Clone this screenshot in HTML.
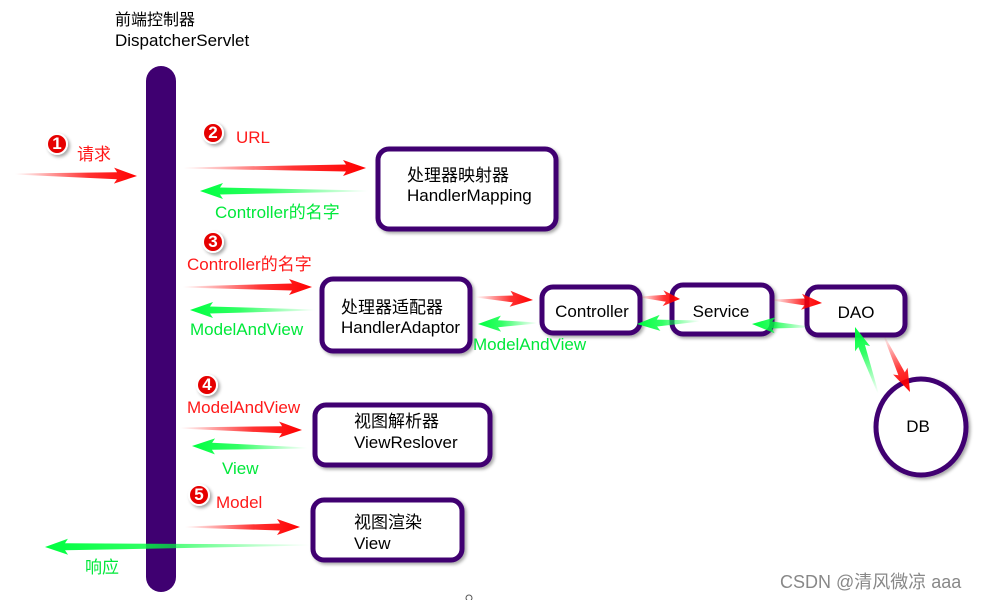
<!DOCTYPE html>
<html><head><meta charset="utf-8"><style>
html,body{margin:0;padding:0;background:#fff;width:986px;height:600px;overflow:hidden}
svg{display:block}
text{font-family:"Liberation Sans","Noto Sans CJK SC",sans-serif;font-size:17px}
.k{fill:#000}.r{fill:#ff1a1a}.g{fill:#00e83a}
</style></head><body>
<svg id="s" width="986" height="600" xmlns="http://www.w3.org/2000/svg">
<defs>
<filter id="sh" x="-20%" y="-20%" width="150%" height="150%"><feDropShadow dx="2" dy="2" stdDeviation="1.5" flood-color="#000" flood-opacity="0.35"/></filter>
</defs>
<rect x="146" y="66" width="30" height="526" rx="15" fill="#3f0071"/>
<text x="115" y="25" class="k" style="font-size:16px">前端控制器</text>
<text x="115" y="46" class="k">DispatcherServlet</text>
<g fill="#fff" stroke="#3f0071" stroke-width="5" filter="url(#sh)">
<rect x="378" y="149" width="178" height="80" rx="11"/>
<rect x="322" y="279" width="148" height="72" rx="11"/>
<rect x="542" y="287" width="98" height="46" rx="11"/>
<rect x="672" y="285" width="100" height="49" rx="11"/>
<rect x="807" y="287" width="98" height="48" rx="11"/>
<rect x="315" y="405" width="175" height="60" rx="11"/>
<rect x="313" y="500" width="149" height="60" rx="11"/>
<ellipse cx="921" cy="427" rx="45" ry="48"/>
</g>
<g id="arrows"></g>
<text x="407" y="181" class="k">处理器映射器</text>
<text x="407" y="201" class="k">HandlerMapping</text>
<text x="341" y="313" class="k">处理器适配器</text>
<text x="341" y="333" class="k">HandlerAdaptor</text>
<text x="592" y="317" class="k" text-anchor="middle">Controller</text>
<text x="721" y="317" class="k" text-anchor="middle">Service</text>
<text x="856" y="318" class="k" text-anchor="middle">DAO</text>
<text x="918" y="432" class="k" text-anchor="middle">DB</text>
<text x="354" y="427" class="k">视图解析器</text>
<text x="354" y="448" class="k">ViewReslover</text>
<text x="354" y="528" class="k">视图渲染</text>
<text x="354" y="549" class="k">View</text>
<text x="77" y="160" class="r">请求</text>
<text x="236" y="143" class="r">URL</text>
<text x="215" y="218" class="g">Controller的名字</text>
<text x="187" y="270" class="r">Controller的名字</text>
<text x="190" y="335" class="g">ModelAndView</text>
<text x="473" y="350" class="g">ModelAndView</text>
<text x="187" y="413" class="r">ModelAndView</text>
<text x="222" y="474" class="g">View</text>
<text x="216" y="508" class="r">Model</text>
<text x="85" y="573" class="g">响应</text>
<text x="780" y="588" style="fill:#888;font-size:18px">CSDN @清风微凉 aaa</text>
<g font-weight="bold">
<g filter="url(#sh)" fill="#e60000" stroke="#fff" stroke-width="2">
<circle cx="57" cy="144" r="10"/><circle cx="213" cy="133" r="10"/><circle cx="213" cy="242" r="10"/><circle cx="207" cy="385" r="10"/><circle cx="199" cy="495" r="10"/>
</g>
<text x="57" y="149" fill="#fff" font-size="13" text-anchor="middle">1</text>
<text x="213" y="138" fill="#fff" font-size="13" text-anchor="middle">2</text>
<text x="213" y="247" fill="#fff" font-size="13" text-anchor="middle">3</text>
<text x="207" y="390" fill="#fff" font-size="13" text-anchor="middle">4</text>
<text x="199" y="500" fill="#fff" font-size="13" text-anchor="middle">5</text>
</g>
<circle cx="469" cy="598" r="3" fill="none" stroke="#555" stroke-width="1"/>
</svg>
<script>
var NS="http://www.w3.org/2000/svg",g=document.getElementById("arrows"),defs=document.querySelector("defs"),n=0;
function A(x1,y1,x2,y2,c){
 var id="gr"+(n++),lg=document.createElementNS(NS,"linearGradient");
 lg.setAttribute("id",id);lg.setAttribute("gradientUnits","userSpaceOnUse");
 lg.setAttribute("x1",x1);lg.setAttribute("y1",y1);lg.setAttribute("x2",x2);lg.setAttribute("y2",y2);
 lg.innerHTML='<stop offset="0" stop-color="'+c+'" stop-opacity="0"/><stop offset="0.6" stop-color="'+c+'" stop-opacity="0.8"/><stop offset="1" stop-color="'+c+'"/>';
 defs.appendChild(lg);
 var dx=x2-x1,dy=y2-y1,L=Math.hypot(dx,dy),ux=dx/L,uy=dy/L,px=-uy,py=ux,hl=Math.min(20,L*0.35),hw=8;
 var bx=x2-ux*hl,by=y2-uy*hl;
 function P(x,y){return x.toFixed(1)+","+y.toFixed(1)}
 var pts=[P(x1+px*0.5,y1+py*0.5),P(bx+px*3.5,by+py*3.5),P(bx+px*hw-ux*3,by+py*hw-uy*3),P(x2,y2),P(bx-px*hw-ux*3,by-py*hw-uy*3),P(bx-px*3.5,by-py*3.5),P(x1-px*0.5,y1-py*0.5)];
 var p=document.createElementNS(NS,"polygon");p.setAttribute("points",pts.join(" "));p.setAttribute("fill","url(#"+id+")");g.appendChild(p);
}
var R="#ff0000",G="#00ff40";
A(15,174,137,176,R);
A(183,168,366,168,R);A(368,191,200,191,G);
A(183,287,312,287,R);A(315,310,190,310,G);
A(476,297,533,300,R);A(537,323,478,324,G);
A(640,297,680,299,R);A(700,321,637,324,G);
A(772,300,822,303,R);A(810,327,752,324,G);
A(884,336,910,392,R);A(878,393,855,327,G);
A(180,428,302,430,R);A(307,448,192,446,G);
A(185,527,300,527,R);A(310,545,45,547,G);
</script>
</body></html>
